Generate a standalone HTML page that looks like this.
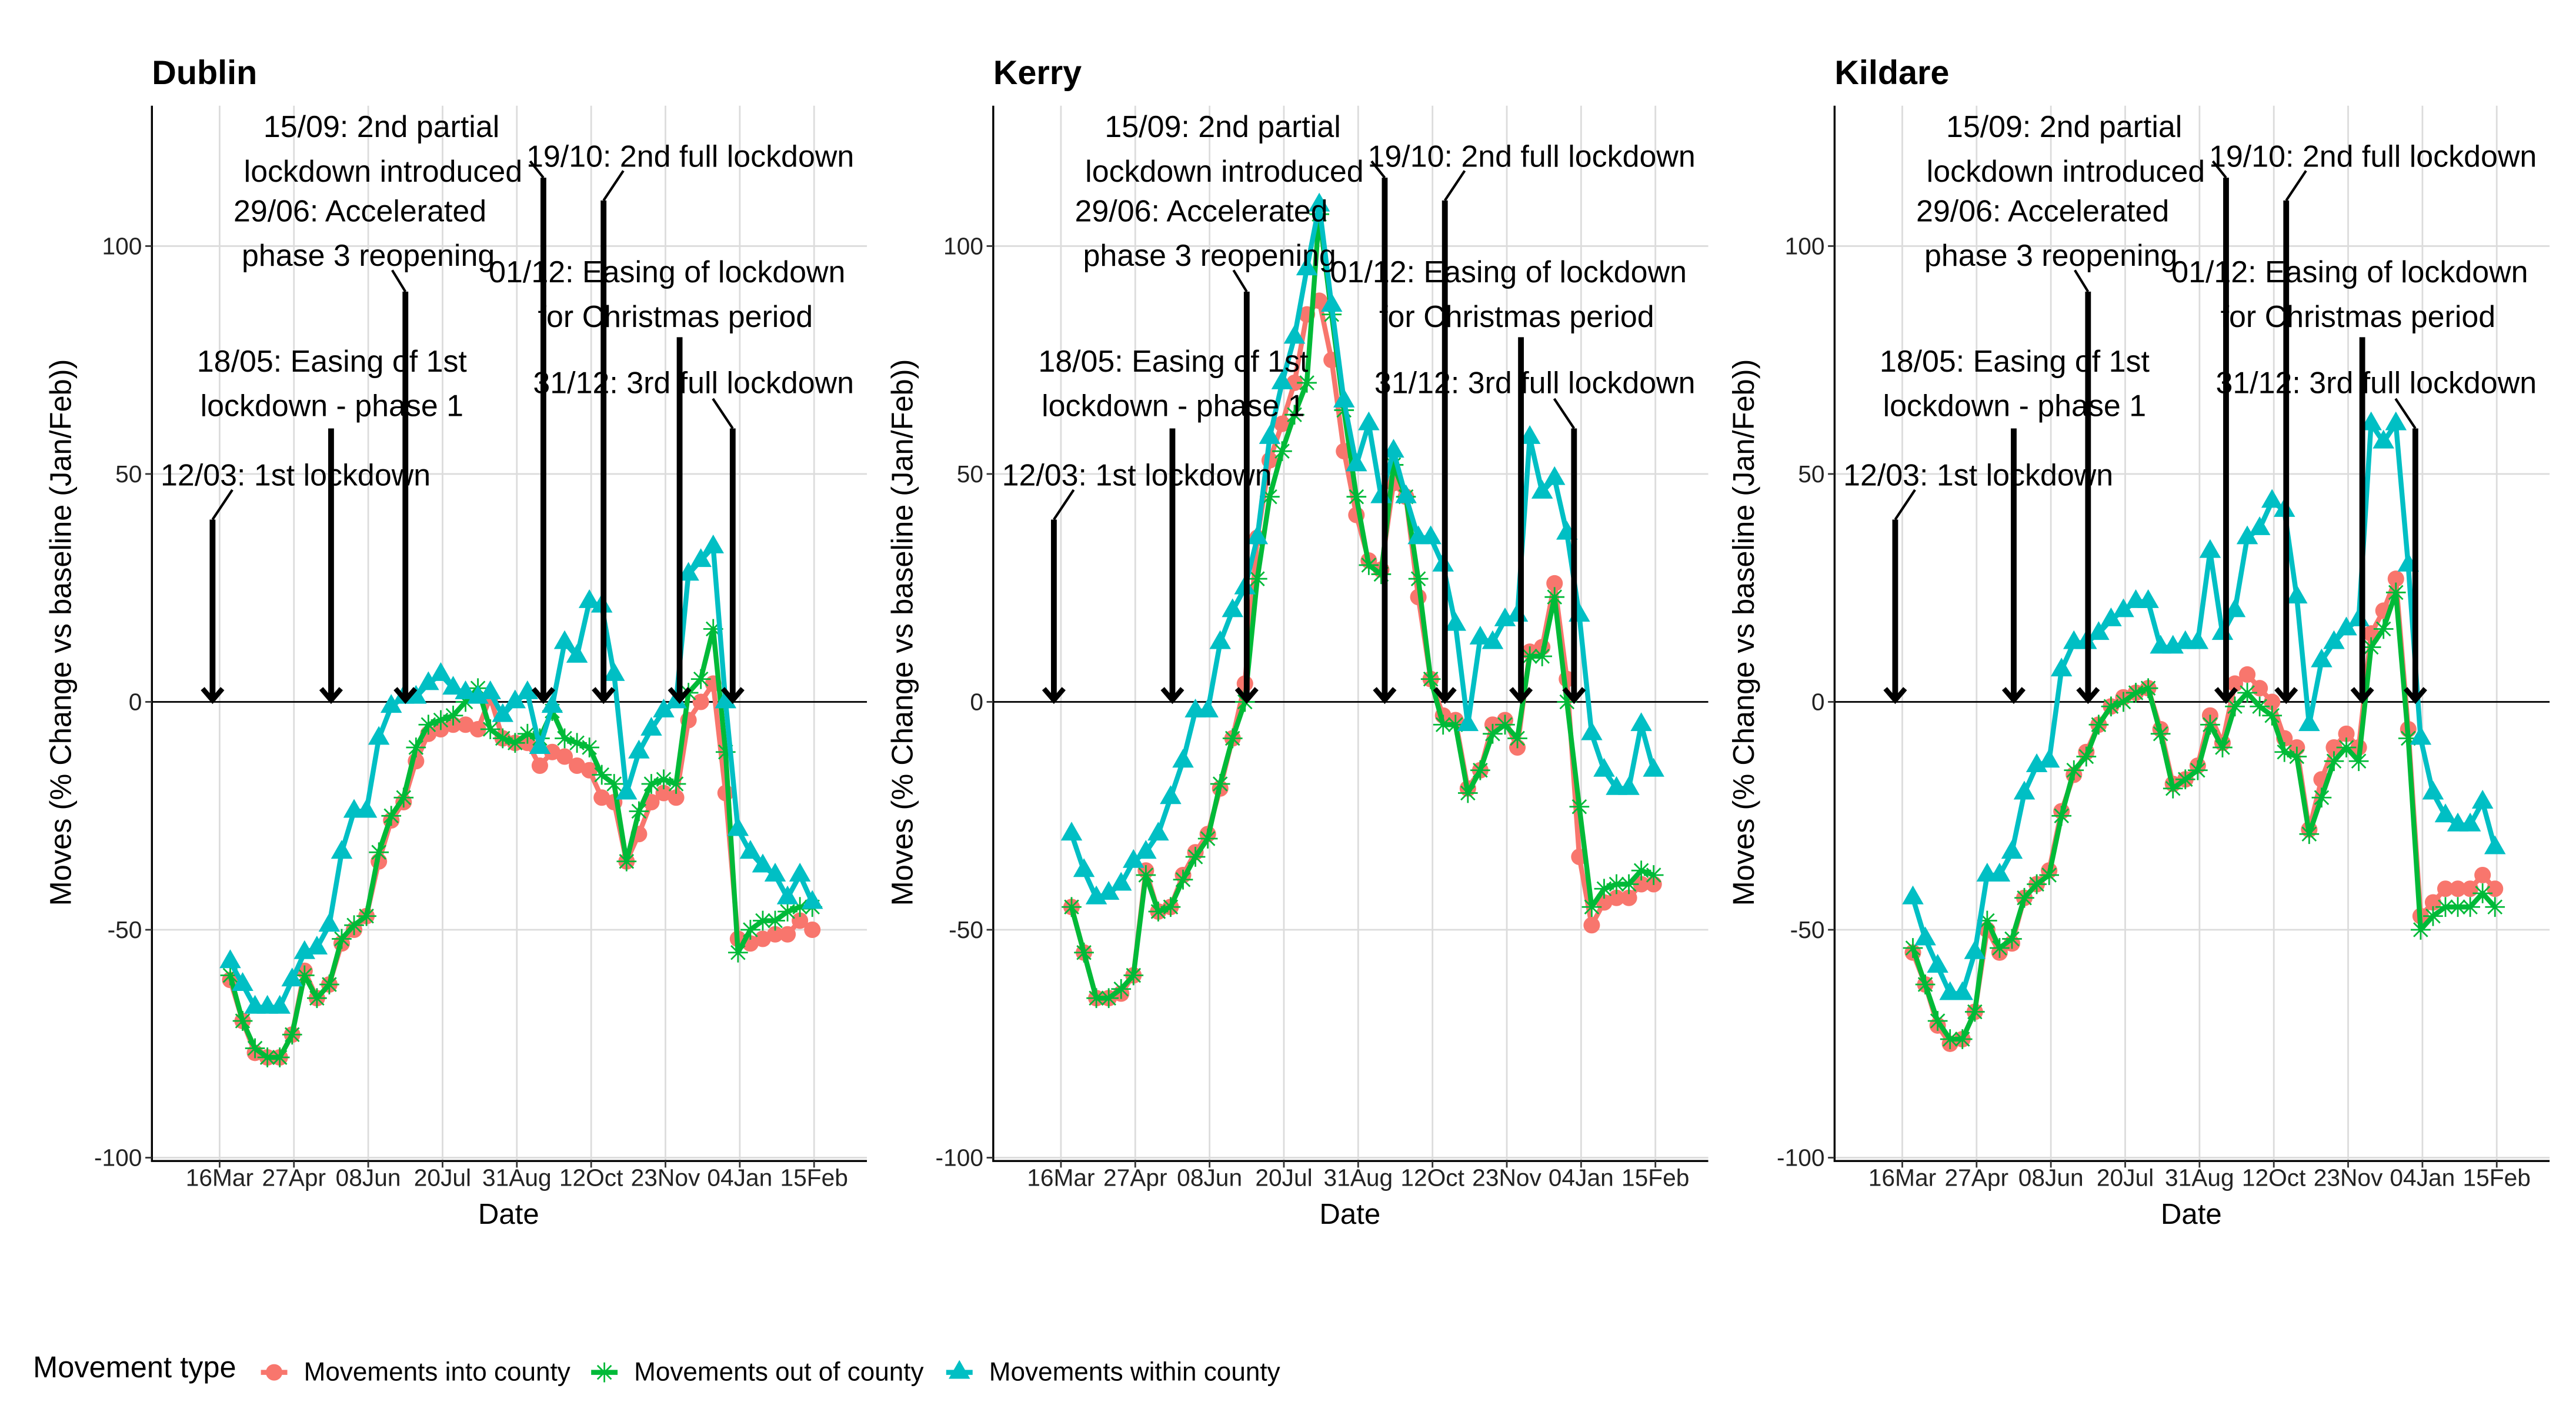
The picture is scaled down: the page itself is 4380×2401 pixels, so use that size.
<!DOCTYPE html>
<html><head><meta charset="utf-8"><style>
html,body{margin:0;padding:0;background:#fff;}
svg{display:block;font-family:"Liberation Sans",Arial,sans-serif;}
</style></head><body>
<svg id="chart" xmlns="http://www.w3.org/2000/svg" width="4380" height="2401" viewBox="0 0 1560 855" preserveAspectRatio="none"></svg>
<script>
const startDate = '2020-03-22';
const xTickLabels = ['16Mar','27Apr','08Jun','20Jul','31Aug','12Oct','23Nov','04Jan','15Feb'];
const xTickDays = [0,42,84,126,168,210,252,294,336];
const yTicks = [-100,-50,0,50,100];
const counties = ['Dublin','Kerry','Kildare'];

const dublinInto = [-61,-70,-77,-78,-78,-73,-59,-65,-62,-53,-50,-47,-35,-26,-22,-13,-7,-6,-5,-5,-6,1,-8,-9,-9,-14,-11,-12,-14,-15,-21,-22,-35,-29,-22,-20,-21,-4,0,4,-20,-52,-53,-52,-51,-51,-48,-50];
const dublinOut = [-60,-70,-76,-78,-78,-73,-60,-65,-62,-52,-49,-47,-33,-25,-21,-10,-5,-4,-3,0,3,-6,-8,-9,-7,-8,-2,-8,-9,-10,-16,-18,-35,-24,-18,-17,-18,2,5,16,-11,-55,-50,-48,-48,-46,-45,-45];
const dublinWithin = [-57,-62,-67,-67,-67,-61,-55,-54,-49,-33,-24,-24,-8,-1,1,1,4,6,3,2,1,2,-3,0,2,-10,-1,13,10,22,21,6,-20,-11,-6,-2,0,28,31,34,0,-28,-33,-36,-38,-43,-38,-44];

const kerryInto = [-45,-55,-65,-65,-64,-60,-37,-46,-45,-38,-33,-29,-19,-8,4,36,53,61,70,85,88,75,55,41,31,29,48,45,23,5,-3,-4,-19,-15,-5,-4,-10,11,12,26,5,-34,-49,-44,-43,-43,-40,-40];
const kerryOut = [-45,-55,-65,-65,-63,-60,-38,-46,-45,-39,-34,-30,-18,-8,0,27,45,55,63,70,107,85,64,45,30,28,52,45,27,5,-5,-5,-20,-15,-7,-5,-8,10,10,23,0,-23,-45,-41,-40,-40,-37,-38];
const kerryWithin = [-29,-37,-43,-42,-40,-35,-33,-29,-21,-13,-2,-2,13,20,25,36,58,70,80,95,109,87,66,52,61,45,55,45,36,36,30,17,-5,14,13,18,19,58,46,49,37,19,-7,-15,-19,-19,-5,-15];

const kildareInto = [-55,-62,-71,-75,-74,-68,-50,-55,-53,-43,-40,-37,-24,-16,-11,-5,-1,1,2,3,-6,-18,-17,-14,-3,-9,4,6,3,0,-8,-10,-28,-17,-10,-7,-10,15,20,27,-6,-47,-44,-41,-41,-41,-38,-41];
const kildareOut = [-54,-62,-70,-74,-74,-68,-48,-54,-52,-43,-40,-38,-25,-15,-12,-5,-1,0,2,3,-7,-19,-17,-15,-5,-10,-1,2,-1,-3,-11,-12,-29,-21,-13,-10,-13,12,16,24,-8,-50,-47,-45,-45,-45,-42,-45];
const kildareWithin = [-43,-52,-58,-64,-64,-55,-38,-38,-33,-20,-14,-13,7,13,13,15,18,20,22,22,12,12,13,13,33,15,20,36,38,44,42,23,-5,9,13,16,18,61,57,61,30,-8,-20,-25,-27,-27,-22,-32];

const eventDays = [-4,63,105,183,217,260,290];
const eventTops = [40,60,90,115,110,80,60];

const svg = document.getElementById('chart');
const NS = 'http://www.w3.org/2000/svg';
function mk(tag, attrs, parent){const e=document.createElementNS(NS,tag);for(const k in attrs)e.setAttribute(k,attrs[k]);(parent||svg).appendChild(e);return e;}
function txt(s, attrs, parent){const e=mk('text',attrs,parent);e.textContent=s;return e;}

const panelLefts=[92,601.5,1111];
const panelRight=433;
const plotTop=64, plotBottom=703;
function yScale(v){return 425 - v*2.76;}
function xScale(px,d){return px+41+d*45/42;}
const weekDays = dublinInto.map((_,i)=>{const d=new Date(startDate);d.setDate(d.getDate()+7*i);return Math.round((d-new Date('2020-03-16'))/86400000);});

const RED='#F8766D',GREEN='#00BA38',CYAN='#00BFC4';
const seriesByCounty={Dublin:[dublinInto,dublinOut,dublinWithin],Kerry:[kerryInto,kerryOut,kerryWithin],Kildare:[kildareInto,kildareOut,kildareWithin]};

const labels=[
 {t:'12/03: 1st lockdown',x:179,y:288},
 {t:'18/05: Easing of 1st',x:201,y:219},
 {t:'lockdown - phase 1',x:201,y:246},
 {t:'29/06: Accelerated',x:218,y:128},
 {t:'phase 3 reopening',x:223,y:155},
 {t:'15/09: 2nd partial',x:231,y:77},
 {t:'lockdown introduced',x:232,y:104},
 {t:'19/10: 2nd full lockdown',x:418,y:95},
 {t:'01/12: Easing of lockdown',x:404,y:165},
 {t:'for Christmas period',x:409,y:192},
 {t:'31/12: 3rd full lockdown',x:420,y:232}
];
const diag=[[12,-18],null,[-8,-13],[-8,-10],[12,-18],null,[-12,-18]];

function circle(g,x,y,c){const e=mk('circle',{cx:x,cy:y,r:5,fill:c},g);}
function star(g,x,y,c){const s=6;const p=mk('path',{d:`M${x-s} ${y}H${x+s}M${x} ${y-s}V${y+s}M${x-s*0.7} ${y-s*0.7}L${x+s*0.7} ${y+s*0.7}M${x-s*0.7} ${y+s*0.7}L${x+s*0.7} ${y-s*0.7}`,stroke:c,'stroke-width':1,fill:'none'},g);}
function tri(g,x,y,c){const s=6.5;const p=mk('path',{d:`M${x} ${y-s*1.15}L${x+s} ${y+s*0.6}L${x-s} ${y+s*0.6}Z`,fill:c},g);}

counties.forEach((name,pi)=>{
  const px=panelLefts[pi];
  const g=mk('g',{});
  
  
  yTicks.forEach(v=>{const l=mk('line',{x1:px,x2:px+panelRight,y1:yScale(v),y2:yScale(v),stroke:'#dcdcdc','stroke-width':1},g);});
  xTickDays.forEach(d=>{const l=mk('line',{x1:xScale(px,d),x2:xScale(px,d),y1:plotTop,y2:plotBottom,stroke:'#dcdcdc','stroke-width':1},g);});
  const zl=mk('line',{x1:px,x2:px+panelRight,y1:yScale(0),y2:yScale(0),stroke:'#000','stroke-width':1},g);
  
  const ax=mk('path',{d:`M${px} ${plotTop}V${plotBottom}H${px+panelRight}`,stroke:'#000','stroke-width':1.2,fill:'none'},g);
  
  yTicks.forEach(v=>{mk('line',{x1:px-4,x2:px,y1:yScale(v),y2:yScale(v),stroke:'#333'},g);
    const t=txt(String(v),{x:px-6,y:yScale(v)+5,'text-anchor':'end','font-size':14.5,fill:'#222'},g);});
  xTickDays.forEach((d,i)=>{mk('line',{x1:xScale(px,d),x2:xScale(px,d),y1:plotBottom,y2:plotBottom+4,stroke:'#333'},g);
    const t=txt(xTickLabels[i],{x:xScale(px,d),y:718,'text-anchor':'middle','font-size':14.5,fill:'#222'},g);});
  const tt=txt(name,{x:px,y:51,'font-size':20.5,'font-weight':'bold'},g);
  const xt=txt('Date',{x:px+216,y:741,'text-anchor':'middle','font-size':17.5},g);
  const yt=txt('Moves (% Change vs baseline (Jan/Feb))',{x:0,y:0,transform:`translate(${px-49},383) rotate(-90)`,'text-anchor':'middle','font-size':18},g);
  const [sIn,sOut,sWith]=seriesByCounty[name];
  const defs=[[sIn,RED,circle,'into'],[sOut,GREEN,star,'out'],[sWith,CYAN,tri,'within']];
  defs.forEach(([arr,c,fn,k])=>{
    const sg=mk('g',{},g);
    const pts=arr.map((v,i)=>xScale(px,weekDays[i]).toFixed(1)+','+yScale(v).toFixed(1)).join(' ');
    const pl=mk('polyline',{points:pts,fill:'none',stroke:c,'stroke-width':3,'stroke-linejoin':'round'},sg);
    
    arr.forEach((v,i)=>fn(sg,xScale(px,weekDays[i]),yScale(v),c));
  });
  eventDays.forEach((d,i)=>{
    const x=xScale(px,d), yt=yScale(eventTops[i]), y0=yScale(0);
    const ag=mk('g',{},g);
    mk('line',{x1:x,x2:x,y1:yt,y2:y0-2,stroke:'#000','stroke-width':3.5},ag);
    mk('path',{d:`M${x-6} ${y0-8}L${x} ${y0-1}L${x+6} ${y0-8}`,stroke:'#000','stroke-width':3,fill:'none'},ag);
    if(diag[i])mk('line',{x1:x,y1:yt,x2:x+diag[i][0],y2:yt+diag[i][1],stroke:'#000','stroke-width':1.5},ag);
  });
  labels.forEach(L=>{const t=txt(L.t,{x:px-92+L.x,y:L.y+6,'text-anchor':'middle','font-size':18.5},g);});
});

const lg=mk('g',{});
const lt=txt('Movement type',{x:20,y:834,'font-size':18},lg);
const legendItems=[['Movements into county',RED,circle,166],['Movements out of county',GREEN,star,366],['Movements within county',CYAN,tri,581]];
legendItems.forEach(([t,c,fn,x])=>{
  const eg=mk('g',{},lg);
  mk('line',{x1:x-8,x2:x+8,y1:831,y2:831,stroke:c,'stroke-width':3},eg);
  fn(eg,x,831,c);
  const tx=txt(t,{x:x+18,y:836,'font-size':15.7},eg);
});
</script>
</body></html>
